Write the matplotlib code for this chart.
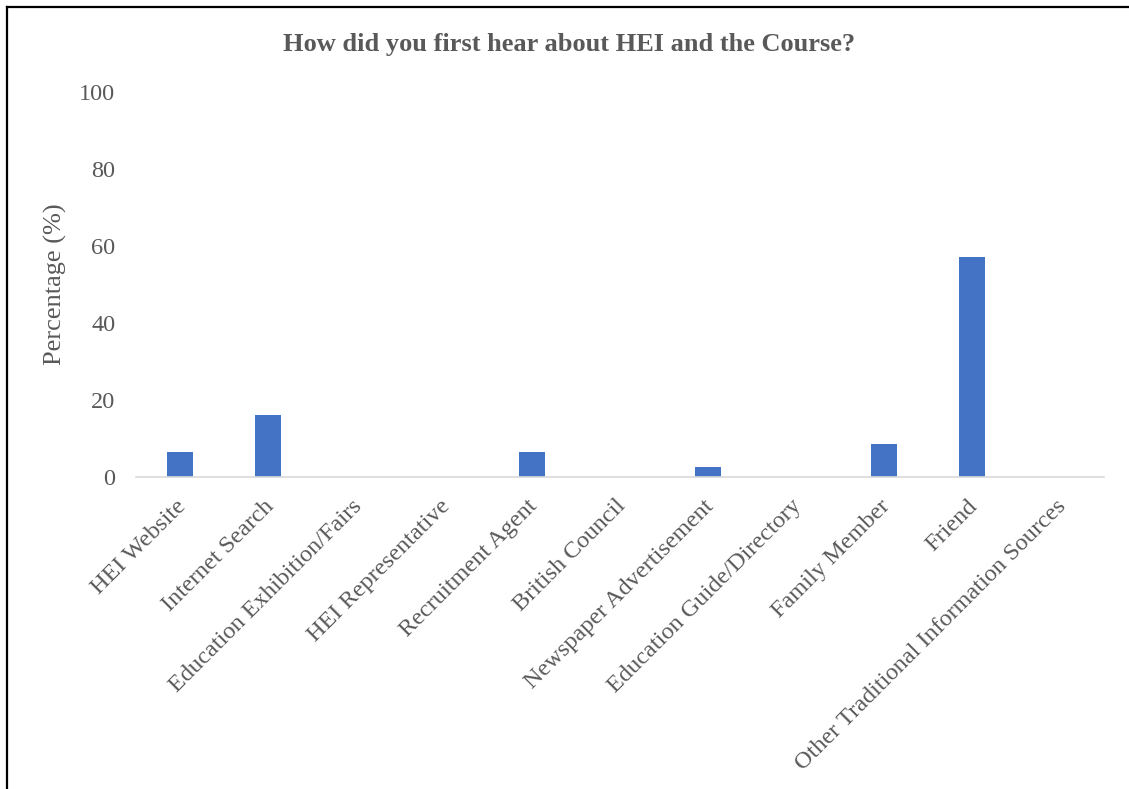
import matplotlib
matplotlib.use("Agg")
import matplotlib.pyplot as plt
import matplotlib.transforms as mtransforms
import numpy as np

# Datos
categorias = ["HEI Website", "Internet Search", "Education Exhibition/Fairs",
              "HEI Representative", "Recruitment Agent", "British Council",
              "Newspaper Advertisement", "Education Guide/Directory",
              "Family Member", "Friend", "Other Traditional Information Sources"]
porcentajes = [6.5, 16.2, 0, 0, 6.5, 0, 2.5, 0, 8.5, 57.1, 0]
y_ticks = [0, 20, 40, 60, 80, 100]

gris = "#595959"
azul = "#4472C4"

plt.rcParams["font.family"] = ["Liberation Serif", "DejaVu Serif"]

fig = plt.figure(figsize=(11.29, 7.89), dpi=100)
ax = fig.add_axes([0.1205, 0.3954, 0.978 - 0.1205, 0.8834 - 0.3954])

x = np.arange(len(categorias))
ax.bar(x, porcentajes, width=0.30, color=azul)
ax.set_xlim(-0.5, len(categorias) - 0.5)
ax.set_ylim(0, 100)
ax.set_yticks(y_ticks)
ax.tick_params(axis="y", length=0, pad=15, labelsize=17.5, labelcolor=gris)
ax.tick_params(axis="x", length=0, pad=4, labelsize=17.5, labelcolor=gris)
ax.set_xticks(x)
ax.set_xticklabels(categorias, rotation=45, ha="right", va="top",
                   rotation_mode="anchor")
offset = mtransforms.ScaledTranslation(-5 / 100, -13 / 100, fig.dpi_scale_trans)
for lbl in ax.get_xticklabels():
    lbl.set_transform(lbl.get_transform() + offset)

for s in ["top", "right", "left"]:
    ax.spines[s].set_visible(False)
ax.spines["bottom"].set_color("#d9d9d9")
ax.spines["bottom"].set_linewidth(1.2)

ax.set_ylabel("Percentage (%)", fontsize=19, color=gris)
ax.yaxis.set_label_coords(-0.071, 0.5)

fig.text(0.504, 0.943, "How did you first hear about HEI and the Course?",
         ha="center", va="center", fontsize=19, fontweight="bold", color=gris)

# borde de la captura (izquierda y arriba)
fig.add_artist(plt.Line2D([7 / 1129, 7 / 1129], [0, 1 - 7 / 789],
                          transform=fig.transFigure, color="black", lw=1.6))
fig.add_artist(plt.Line2D([7 / 1129, 1], [1 - 7 / 789, 1 - 7 / 789],
                          transform=fig.transFigure, color="black", lw=1.6))

plt.savefig("out.png", dpi=100)
